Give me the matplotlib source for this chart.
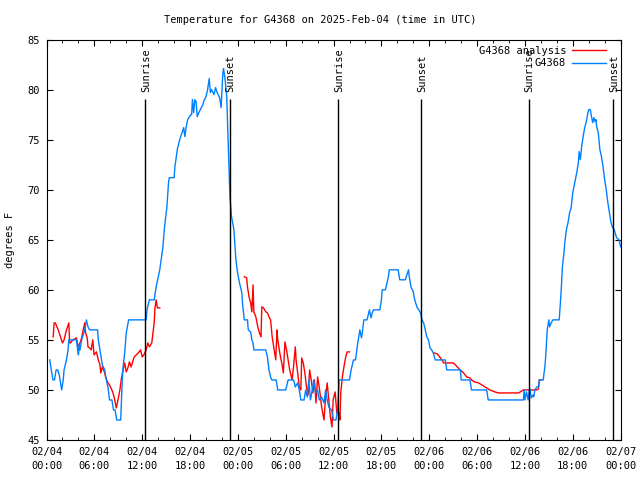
import numpy as np
import matplotlib.pyplot as plt

# hours after 02/04 00:00 UTC
obs_h = [0.4, 0.6, 0.8, 1.0, 1.2, 1.4, 1.6, 1.8, 1.9, 2.1, 2.2, 2.5, 2.7, 2.8, 3.75, 3.9, 4.0, 4.1, 4.2, 4.4,
         4.8, 5.0, 5.2, 5.4, 6.4, 6.5, 6.7, 7.0, 7.3, 7.5, 7.7, 7.9, 8.2, 8.4, 8.6, 8.8, 9.3, 9.4, 9.5, 9.6,
         9.8, 10.0, 10.3, 12.5, 12.6, 12.9, 13.5, 13.75, 14.2, 14.6, 14.8, 15.1, 15.3, 15.4, 16.0, 16.1, 16.4, 16.7, 17.0, 17.2,
         17.35, 17.5, 17.7, 18.1, 18.2, 18.3, 18.45, 18.6, 18.75, 18.9, 19.1, 19.3, 19.6, 19.8, 20.0, 20.2, 20.4, 20.55, 20.7, 21.0,
         21.2, 21.4, 21.7, 21.9, 22.1, 22.2, 22.4, 22.6, 22.8, 22.9, 23.0, 23.2, 23.5, 23.75, 23.96, 24.2, 24.5, 24.6, 24.8, 25.2,
         25.3, 25.6, 25.75, 25.9, 26.0, 27.5, 27.7, 27.9, 28.1, 28.25, 28.8, 29.0, 30.0, 30.2, 30.3, 31.0, 31.2, 31.5, 31.7, 31.9,
         32.3, 32.5, 32.7, 32.9, 33.1, 33.4, 33.5, 33.75, 34.0, 34.2, 34.5, 34.8, 35.0, 35.2, 35.4, 35.75, 36.0, 36.3, 36.5, 36.7,
         38.0, 38.2, 38.5, 38.75, 39.0, 39.2, 39.3, 39.5, 39.6, 39.8, 40.2, 40.4, 40.5, 40.7, 40.85, 41.0, 41.8, 42.0, 42.1, 42.5,
         42.7, 42.85, 43.0, 44.1, 44.3, 45.0, 45.2, 45.4, 45.5, 45.7, 46.0, 46.1, 46.25, 46.5, 46.7, 46.9, 47.1, 47.3, 47.5, 47.7,
         47.9, 48.1, 48.3, 48.5, 48.75, 50.0, 50.2, 51.9, 52.0, 53.1, 53.3, 55.2, 55.4, 59.8, 59.9, 60.0, 60.2, 60.4, 60.6, 60.8,
         61.0, 61.1, 61.25, 61.5, 61.7, 61.8, 62.3, 62.4, 62.5, 62.6, 62.7, 62.8, 63.0, 63.1, 63.3, 63.5, 64.3, 64.5, 64.6, 64.7,
         64.9, 65.0, 65.2, 65.4, 65.6, 65.8, 66.0, 66.25, 66.5, 66.7, 66.8, 66.95, 67.1, 67.3, 67.5, 67.7, 67.9, 68.0, 68.2, 68.3,
         68.5, 68.65, 68.8, 68.9, 69.0, 69.2, 69.4, 69.6, 69.8, 70.0, 70.2, 70.4, 70.6, 70.8, 71.0, 71.2, 71.5, 71.8, 72.0]
obs_t = [53, 52, 51, 51, 52, 52, 51.5, 50.5, 50, 51, 52, 53, 54, 55, 55, 54, 53.5, 54.5, 54, 55,
         56, 57, 56.3, 56, 56, 55, 54, 52.5, 52, 51, 50.3, 49, 49, 48, 48, 47, 47, 49, 51, 52.3,
         53.7, 55.7, 57, 57, 58, 59, 59, 60.3, 62, 64.3, 66.3, 68.3, 70.7, 71.2, 71.2, 72.3, 74, 75, 75.7, 76.2,
         75.3, 76.2, 77, 77.5, 77.5, 79, 77.7, 79, 78.8, 77.3, 77.7, 78, 78.5, 79, 79.3, 80, 81.1, 79.7, 80, 79.5,
         80.2, 79.7, 79.2, 78.2, 81.5, 82.1, 81, 79.3, 74.3, 71.7, 69.3, 67.3, 66, 63, 61.7, 60.7, 59.7, 58.5, 57, 57,
         56, 55.8, 55, 54.7, 54, 54, 53.3, 52, 51.3, 51, 51, 50, 50, 50.7, 51, 51, 50.3, 50.7, 50, 49,
         49, 50, 49.3, 51, 49, 50.3, 51, 49.7, 50, 49, 49.3, 48.7, 50, 49, 48.3, 48, 47, 47, 48, 51,
         51, 52, 53, 53, 54.5, 55.5, 56, 55.2, 55.7, 57, 57, 57.7, 58, 57.2, 57.7, 58, 58, 59, 60, 60,
         60.7, 61.2, 62, 62, 61, 61, 61.5, 62, 61.3, 60.3, 59.8, 59.3, 58.8, 58.2, 58, 57.7, 57, 56.7, 56, 55.3,
         55, 54.2, 54, 53.7, 53, 53, 52, 52, 51, 51, 50, 50, 49, 49, 50, 49, 49.8, 49, 50.2, 49.2,
         49.5, 49.3, 50, 50.3, 50.3, 51, 51, 51.7, 52.3, 53.3, 54.7, 56, 57, 56.3, 56.7, 57, 57, 59.3, 60.7, 62.3,
         63.7, 64.7, 66, 66.7, 67.7, 68.2, 69.7, 70.7, 71.7, 72.7, 73.8, 73, 74.2, 75.3, 76.2, 76.8, 77.7, 78, 78, 77.5,
         76.7, 77.2, 76.8, 77, 76.3, 75.7, 74, 73.3, 72.3, 71, 70, 68.7, 67.7, 66.7, 66.2, 66, 65.2, 65, 64.3]

# analysis series, three pieces (nan = gap)
ana_h = [0.83, 0.96, 1.1, 1.46, 1.8, 2.0, 2.2, 2.5, 2.8, 2.9, 3.0, 3.3, 3.75, 3.96, 4.2, 4.4, 4.6, 4.8, 4.9, 5.1,
         5.2, 5.4, 5.6, 5.8, 5.96, 6.25, 6.5, 6.7, 6.8, 7.0, 7.3, 7.4, 7.7, 7.9, 8.3, 8.5, 8.75, 8.96, 9.2, 9.4,
         9.6, 9.8, 10.0, 10.2, 10.4, 10.6, 10.8, 11.0, 11.5, 11.8, 12.0, 12.2, 12.5, 12.7, 12.9, 13.2, 13.5, 13.6, 13.75, 13.9,
         14.2, np.nan,
         24.8, 25.1, 25.2, 25.4, 25.6, 25.75, 25.9, 26.0, 26.25, 26.5, 26.7, 26.9, 27.0, 27.2, 27.5, 27.7, 27.9, 28.1, 28.3, 28.5,
         28.75, 28.9, 29.0, 29.25, 29.5, 29.7, 29.9, 30.1, 30.3, 30.5, 30.8, 31.0, 31.2, 31.3, 31.5, 31.7, 31.9, 32.0, 32.2, 32.4,
         32.6, 32.8, 33.0, 33.25, 33.4, 33.6, 33.8, 34.0, 34.25, 34.5, 34.8, 35.0, 35.2, 35.4, 35.6, 35.8, 35.95, 36.2, 36.4, 36.7,
         36.8, 36.9, 37.1, 37.3, 37.5, 37.7, 38.0, np.nan,
         48.6, 49.0, 49.4, 49.6, 49.8, 51.0, 51.3, 51.5, 51.9, 52.3, 52.7, 53.1, 53.3, 53.7, 54.2, 54.6, 55.0, 55.6, 56.25, 56.7,
         59.2, 59.4, 59.8, 61.5, 61.7, 61.8, 62.0]
ana_t = [55.3, 56.7, 56.7, 56, 55.2, 54.7, 55, 56, 56.7, 54.7, 54.7, 55, 55.2, 54.3, 54.7, 55.2, 56, 56.7, 55.7, 55.2,
         54.3, 54.2, 54, 55, 53.5, 53.8, 53, 52.5, 51.7, 52.3, 51.7, 51.3, 50.7, 50.5, 49.8, 49.2, 48.2, 49, 50, 51.2,
         52, 52.7, 51.8, 52.2, 52.8, 52.3, 52.8, 53.3, 53.7, 54, 53.3, 53.5, 54, 54.7, 54.3, 54.7, 56.7, 58.2, 59, 58.2,
         58.2, np.nan,
         61.3, 61.2, 60.3, 59.3, 58.7, 57.8, 60.5, 57.8, 57.3, 56.3, 55.7, 55.3, 58.3, 58.2, 57.8, 57.7, 57.3, 57, 55.3, 54.3,
         53, 56, 55, 53.7, 52.7, 51.7, 54.8, 54, 53, 52, 51, 52.5, 54.3, 53, 51.7, 50.3, 50, 53.2, 52.7, 51.7,
         50.3, 49.5, 52, 50.7, 49.7, 51, 48.7, 51.3, 50, 48.3, 47, 49.3, 50.7, 49, 47.3, 46.3, 49, 49.8, 47.7, 47.7,
         47, 49.7, 51.3, 52.3, 53.2, 53.8, 53.8, np.nan,
         53.7, 53.6, 53.2, 53, 52.7, 52.7, 52.5, 52.3, 52, 51.7, 51.3, 51.2, 51, 50.8, 50.7, 50.5, 50.3, 50, 49.8, 49.7,
         49.7, 49.8, 50, 50, 50.1, 51, 51]

sun_h = [12.4, 22.95, 36.5, 47.0, 60.45, 71.0]
sun_lbl = ["Sunrise", "Sunset", "Sunrise", "Sunset", "Sunrise", "Sunset"]

tick_h = list(range(0, 73, 6))
tick_lbl = ["02/04\n00:00", "02/04\n06:00", "02/04\n12:00", "02/04\n18:00",
            "02/05\n00:00", "02/05\n06:00", "02/05\n12:00", "02/05\n18:00",
            "02/06\n00:00", "02/06\n06:00", "02/06\n12:00", "02/06\n18:00", "02/07\n00:00"]

plt.rcParams['font.family'] = 'DejaVu Sans Mono'
plt.rcParams['font.size'] = 7.5

fig = plt.figure(figsize=(6.4, 4.8), dpi=100)
ax = fig.add_axes([0.0727, 0.0833, 0.897, 0.8344])

ax.plot(ana_h, ana_t, color='#ff0000', lw=1.0, label='G4368 analysis')
ax.plot(obs_h, obs_t, color='#0080ff', lw=1.0, label='G4368')

ax.vlines(sun_h, 45, 79.1, colors='black', lw=1.0)
for h, s in zip(sun_h, sun_lbl):
    ax.text(h + 0.15, 79.8, s, rotation=90, ha='center', va='bottom', fontsize=7.5)

ax.set_xlim(0, 72)
ax.set_ylim(45, 85)
ax.set_xticks(tick_h)
ax.set_xticklabels(tick_lbl, linespacing=1.55)
ax.set_xticks(range(0, 73, 2), minor=True)
ax.set_yticks(range(45, 86, 5))
ax.tick_params(which='both', direction='in', top=True, right=True, labelsize=7.5, pad=5)
ax.tick_params(which='major', length=4)
ax.tick_params(which='minor', length=2)
ax.set_ylabel('degrees F', fontsize=7.5, labelpad=9)

fig.text(0.5, 1 - 20 / 480, 'Temperature for G4368 on 2025-Feb-04 (time in UTC)',
         ha='center', va='center', fontsize=7.5)

ax.legend(loc='upper right', frameon=False, markerfirst=False, handlelength=3.2,
          fontsize=7.5, labelspacing=0.25, borderaxespad=0.2, handletextpad=0.6,
          bbox_to_anchor=(0.985, 1.0))

fig.savefig('out.png', dpi=100)
